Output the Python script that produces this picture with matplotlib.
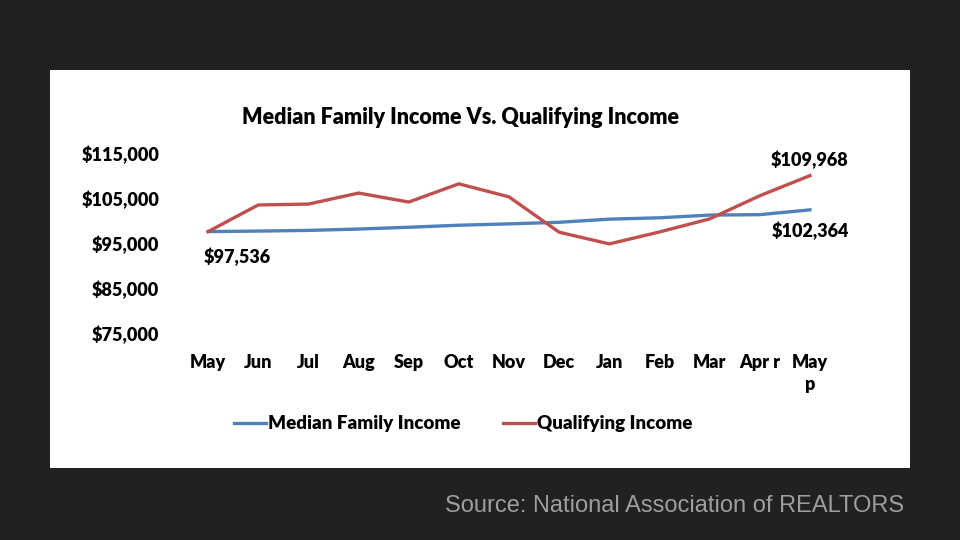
import matplotlib.pyplot as plt
from matplotlib.patches import Rectangle

months = ['May', 'Jun', 'Jul', 'Aug', 'Sep', 'Oct', 'Nov', 'Dec', 'Jan', 'Feb', 'Mar', 'Apr r', 'May\np']
median_income = [97536, 97650, 97800, 98100, 98500, 98950, 99250, 99600, 100300, 100600, 101200, 101300, 102364]
qualifying_income = [97536, 103450, 103650, 106100, 104100, 108150, 105250, 97400, 94800, 97450, 100350, 105500, 109968]
y_ticks = [75000, 85000, 95000, 105000, 115000]

plt.rcParams['font.family'] = ['Lato', 'DejaVu Sans']
plt.rcParams['font.weight'] = 'bold'

fig = plt.figure(figsize=(9.6, 5.4), dpi=100)
fig.patch.set_facecolor('#212121')

# white chart panel, kept behind the axes
fig.patches.append(Rectangle((50 / 960, 1 - 468 / 540), 860 / 960, 398 / 540,
                             transform=fig.transFigure, facecolor='white',
                             edgecolor='none', zorder=-10))

ax = fig.add_axes([183 / 960, 1 - 333 / 540, 652 / 960, 180 / 540])
ax.set_facecolor('none')
ax.set_zorder(5)

x = list(range(len(months)))
l1, = ax.plot(x, median_income, color='#4f81bd', linewidth=2.4, label='Median Family Income')
l2, = ax.plot(x, qualifying_income, color='#c0504d', linewidth=2.4, label='Qualifying Income')

ax.set_xlim(-0.5, len(months) - 0.5)
ax.set_ylim(y_ticks[0], y_ticks[-1])
ax.set_yticks(y_ticks)
ax.set_yticklabels(['${:,.0f}'.format(v) for v in y_ticks], fontsize=13, fontweight='heavy')
ax.set_xticks(x)
ax.set_xticklabels(months, fontsize=13, fontweight='heavy', va='top', linespacing=1.4)
ax.tick_params(axis='both', length=0)
ax.tick_params(axis='y', pad=17)
ax.tick_params(axis='x', pad=15)
for s in ax.spines.values():
    s.set_visible(False)

# data labels
ax.annotate('${:,.0f}'.format(median_income[0]), (x[0], median_income[0]),
            xytext=(21, -18), textcoords='offset points', ha='center', va='center',
            fontsize=13, fontweight='heavy')
ax.annotate('${:,.0f}'.format(qualifying_income[-1]), (x[-1], qualifying_income[-1]),
            xytext=(0, 11), textcoords='offset points', ha='center', va='center',
            fontsize=13, fontweight='heavy')
ax.annotate('${:,.0f}'.format(median_income[-1]), (x[-1], median_income[-1]),
            xytext=(0, -15), textcoords='offset points', ha='center', va='center',
            fontsize=13, fontweight='heavy')

fig.text(460 / 960, 1 - 118 / 540, 'Median Family Income Vs. Qualifying Income',
         ha='center', va='center', fontsize=15.5, fontweight='heavy')

leg = fig.legend(handles=[l1, l2], loc='center', bbox_to_anchor=(463 / 960, 1 - 424 / 540),
                 ncol=2, frameon=False, handlelength=1.7, handletextpad=0.1,
                 columnspacing=2.3, prop={'size': 13.5, 'weight': 'heavy'})

fig.text(904 / 960, 1 - 506 / 540, 'Source: National Association of REALTORS',
         ha='right', va='center', fontsize=17, color='#9e9e9e', fontweight='normal',
         family=['Liberation Sans', 'DejaVu Sans'])

fig.savefig('out.png', dpi=100, facecolor=fig.get_facecolor())
